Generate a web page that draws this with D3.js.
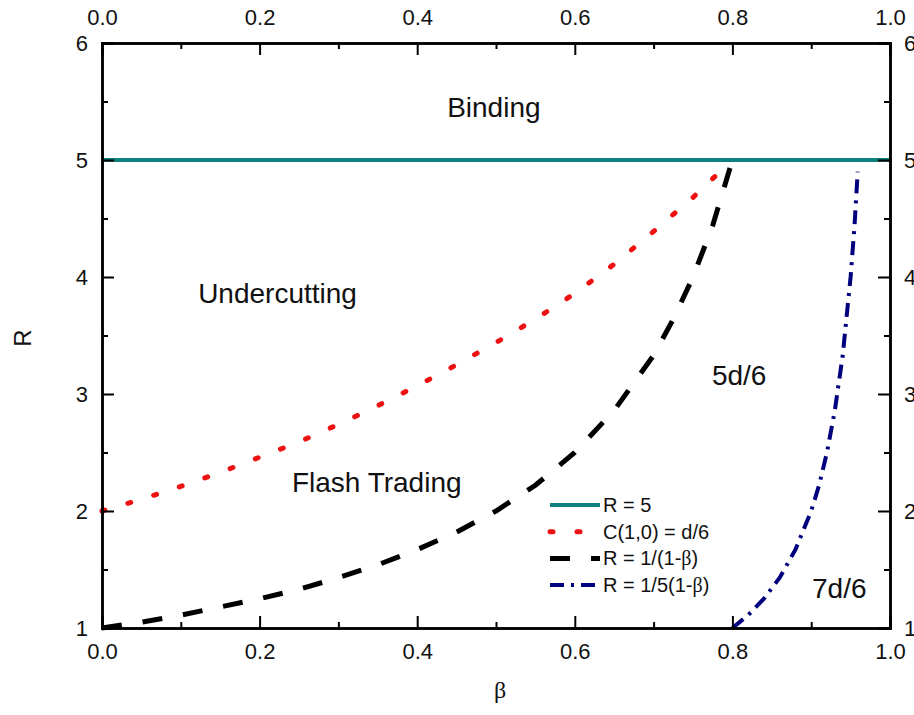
<!DOCTYPE html>
<html>
<head>
<meta charset="utf-8">
<script src="https://cdn.jsdelivr.net/npm/d3@7"></script>
<style>
  body { margin: 0; background: #fff; }
  svg { font-family: Arial, "Liberation Sans", sans-serif; }
</style>
</head>
<body>
<svg id="chart" width="914" height="715"></svg>
<script>
// values
const bindingBeta = [0, 1]
const bindingR = [5, 5]

const undercutBeta = [0, 0.05, 0.1, 0.15, 0.2, 0.25, 0.3, 0.35, 0.4, 0.45, 0.5, 0.55, 0.6, 0.65, 0.7, 0.75, 0.795]
const undercutR = [2.0, 2.10, 2.21, 2.33, 2.46, 2.59, 2.74, 2.90, 3.07, 3.25, 3.44, 3.64, 3.86, 4.11, 4.39, 4.68, 4.97]

const flashBeta = [0, 0.05, 0.1, 0.15, 0.2, 0.25, 0.3, 0.35, 0.4, 0.45, 0.5, 0.55, 0.6, 0.65, 0.7, 0.725, 0.75, 0.775, 0.8]
const flashR = [1.0, 1.05, 1.11, 1.18, 1.25, 1.33, 1.43, 1.54, 1.67, 1.82, 2.0, 2.22, 2.5, 2.86, 3.33, 3.64, 4.0, 4.44, 5.0]

const fifthBeta = [0.8, 0.82, 0.84, 0.86, 0.88, 0.9, 0.91, 0.92, 0.93, 0.94, 0.95, 0.955, 0.959]
const fifthR = [1.0, 1.11, 1.25, 1.43, 1.67, 2.0, 2.22, 2.5, 2.86, 3.33, 4.0, 4.44, 4.9]

const xMajor = [0, 0.2, 0.4, 0.6, 0.8, 1.0]
const xMinor = [0.1, 0.3, 0.5, 0.7, 0.9]
const yMajor = [1, 2, 3, 4, 5, 6]
const yMinor = [1.5, 2.5, 3.5, 4.5, 5.5]

const legendNames = ["R = 5", "C(1,0) = d/6", "R = 1/(1-β)", "R = 1/5(1-β)"]
const regionLabels = [
    {text: "Binding", beta: 0.438, r: 5.37},
    {text: "Undercutting", beta: 0.122, r: 3.78},
    {text: "Flash Trading", beta: 0.241, r: 2.16},
    {text: "5d/6", beta: 0.774, r: 3.08},
    {text: "7d/6", beta: 0.901, r: 1.26}
]

const padL = 102, padR = 890, padT = 43, padB = 628

var svg = d3.select("#chart")
var x = d3.scaleLinear().domain([0, 1]).range([padL, padR])
var y = d3.scaleLinear().domain([1, 6]).range([padB, padT])

let series = [
    {beta: bindingBeta, r: bindingR, color: "#0f8080", width: 4, dash: null, cap: "butt"},
    {beta: undercutBeta, r: undercutR, color: "#ee1111", width: 5, dash: "3 24", cap: "round"},
    {beta: flashBeta, r: flashR, color: "#000000", width: 5, dash: "20 21", cap: "butt"},
    {beta: fifthBeta, r: fifthR, color: "#00007f", width: 4, dash: "14 7 3 7", cap: "butt"}
]

var line = d3.line()
    .x(d => x(d[0]))
    .y(d => y(d[1]))

function styleLine(sel, s){
    sel.attr("fill", "none")
        .attr("stroke", s.color)
        .attr("stroke-width", s.width)
        .attr("stroke-linecap", s.cap)
        .attr("stroke-dasharray", s.dash)
}

// curves
series.forEach(s => {
    let pts = s.beta.map((b, i) => [b, s.r[i]])
    svg.append("path")
        .attr("d", line(pts))
        .call(styleLine, s)
})

// axes, ticks all pointing inward
function drawAxis(axisFn, scale, values, size, pad, labels, transform){
    let ax = axisFn(scale).tickValues(values).tickSize(-size).tickPadding(pad)
    if (labels) {
        ax.tickFormat(d3.format(labels))
    } else {
        ax.tickFormat("")
    }
    let g = svg.append("g").attr("transform", transform).call(ax)
        .attr("font-family", null)
        .attr("font-size", null)
    g.selectAll(".tick line").attr("stroke-width", 2)
    g.select(".domain").attr("stroke-width", 2.5)
    g.selectAll("text").style("font-size", "22px").attr("fill", "#111")
    return g
}

drawAxis(d3.axisBottom, x, xMajor, 12, 15, ".1f", `translate(0,${padB})`)
drawAxis(d3.axisBottom, x, xMinor, 6, 15, null, `translate(0,${padB})`)
drawAxis(d3.axisTop, x, xMajor, 12, 18, ".1f", `translate(0,${padT})`)
drawAxis(d3.axisTop, x, xMinor, 6, 18, null, `translate(0,${padT})`)
drawAxis(d3.axisLeft, y, yMajor, 12, 14, "d", `translate(${padL},0)`)
drawAxis(d3.axisLeft, y, yMinor, 6, 14, null, `translate(${padL},0)`)
drawAxis(d3.axisRight, y, yMajor, 12, 14, "d", `translate(${padR},0)`)
drawAxis(d3.axisRight, y, yMinor, 6, 14, null, `translate(${padR},0)`)

// axis titles
svg.append("text")
    .attr("transform", "translate(31,338) rotate(-90)")
    .attr("text-anchor", "middle")
    .style("font-size", "24px")
    .attr("fill", "#111")
    .text("R")

svg.append("text")
    .attr("x", 500)
    .attr("y", 698)
    .attr("text-anchor", "middle")
    .style("font-family", "'Liberation Serif', 'Times New Roman', serif")
    .style("font-size", "24px")
    .attr("fill", "#111")
    .text("β")

// region labels
svg.append("g")
    .selectAll("text")
    .data(regionLabels)
    .enter()
    .append("text")
    .attr("x", d => x(d.beta))
    .attr("y", d => y(d.r))
    .style("font-size", "28px")
    .attr("fill", "#111")
    .text(d => d.text)

// legend
const legend = svg.append("g").attr("class", "legend")
series.forEach((s, i) => {
    let ly = 505 + i * 26.7
    legend.append("line")
        .attr("x1", 550).attr("x2", 600)
        .attr("y1", ly).attr("y2", ly)
        .call(styleLine, s)
    let t = legend.append("text")
        .attr("x", 603)
        .attr("y", ly)
        .attr("dy", "0.35em")
        .style("font-size", "20px")
        .attr("fill", "#111")
    let name = legendNames[i]
    if (name.includes("β")) {
        let parts = name.split("β")
        t.append("tspan").text(parts[0])
        t.append("tspan")
            .style("font-family", "'Liberation Serif', serif")
            .text("β")
        t.append("tspan").text(parts[1])
    } else {
        t.text(name)
    }
})
</script>
</body>
</html>
